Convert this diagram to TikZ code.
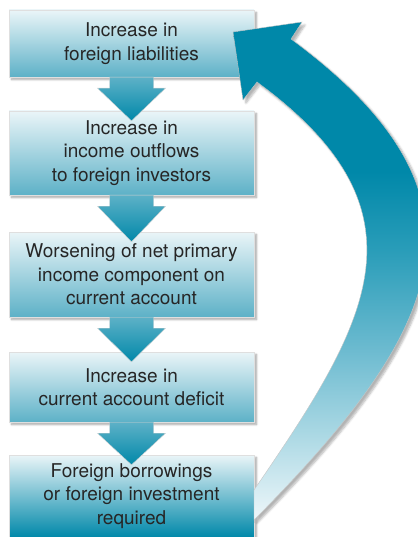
\documentclass[tikz,border=0pt]{standalone}
\usepackage{fontspec}
\setmainfont{TeX Gyre Heros}
\usetikzlibrary{calc,shadows.blur}

\definecolor{tealdark}{HTML}{0088A9}
\definecolor{tealmid}{HTML}{5DB1C7}
\definecolor{teallight}{HTML}{EAF5F8}
\definecolor{loopA}{HTML}{EEF7FA}
\definecolor{loopB}{HTML}{A8D7E3}
\definecolor{loopC}{HTML}{6DBBD0}
\definecolor{loopD}{HTML}{2A9DB9}

\pgfdeclareverticalshading{loopshade}{100bp}{color(0bp)=(loopA); color(25bp)=(loopA);
  color(34bp)=(loopB); color(42bp)=(loopC); color(52bp)=(loopD);
  color(60bp)=(tealdark); color(100bp)=(tealdark)}

\tikzset{
  flowbox/.style={rectangle, minimum width=245pt, inner sep=0pt, align=center,
    top color=teallight, bottom color=tealmid, draw=gray!25, line width=0.4pt,
    text=black!85, font=\fontsize{19}{23.5}\selectfont,
    blur shadow={shadow xshift=2.5pt, shadow yshift=-2.5pt,
      shadow blur steps=6, shadow opacity=35}},
  flowarrow/.style={top color=tealmid, bottom color=tealdark,
    draw=gray!35, line width=0.4pt},
}

% down arrow from the bottom of #1 into the top of #2
\newcommand\stepdown[2]{%
  \shade[flowarrow]
    ($(#1.south)+(-22,0)$) -- ($(#1.south)+(22,0)$) -- ($(#1.south)+(22,11)$)
    -- ($(#1.south)+(34,11)$) -- ($(#2.north)+(0,10)$)
    -- ($(#1.south)+(-34,11)$) -- ($(#1.south)+(-22,11)$) -- cycle;}

\begin{document}
\begin{tikzpicture}[x=1pt, y=-1pt]

  \useasboundingbox (0,0) rectangle (417,537);

  % ---------------- the chain of boxes ----------------
  \node[flowbox, minimum height=67pt] (liab) at (131.5,43.5)
    {Increase in\\foreign liabilities};
  \node[flowbox, minimum height=84pt] (outflow) at (131.5,153)
    {Increase in\\income outflows\\to foreign investors};
  \node[flowbox, minimum height=85pt] (primary) at (131.5,274.5)
    {Worsening of net primary\\income component on\\current account};
  \node[flowbox, minimum height=70pt] (deficit) at (131.5,387)
    {Increase in\\current account deficit};
  \node[flowbox, minimum height=82pt, middle color=tealmid, bottom color=tealdark]
    (borrow) at (131.5,496)
    {Foreign borrowings\\or foreign investment\\required};

  \stepdown{liab}{outflow}
  \stepdown{outflow}{primary}
  \stepdown{primary}{deficit}
  \stepdown{deficit}{borrow}

  % ---------------- the loop back to the top ----------------
  \shade[shading=loopshade, draw=gray!45, line width=0.4pt,
    blur shadow={shadow xshift=3pt, shadow yshift=-3pt,
      shadow blur steps=6, shadow opacity=30}]
    (254,490) .. controls (369,322) and (435,212) .. (257,82)
    -- (243,100) -- (233,32) -- (302,22) -- (291,39)
    .. controls (508,199) and (441,331) .. (254,520) -- cycle;

\end{tikzpicture}
\end{document}
